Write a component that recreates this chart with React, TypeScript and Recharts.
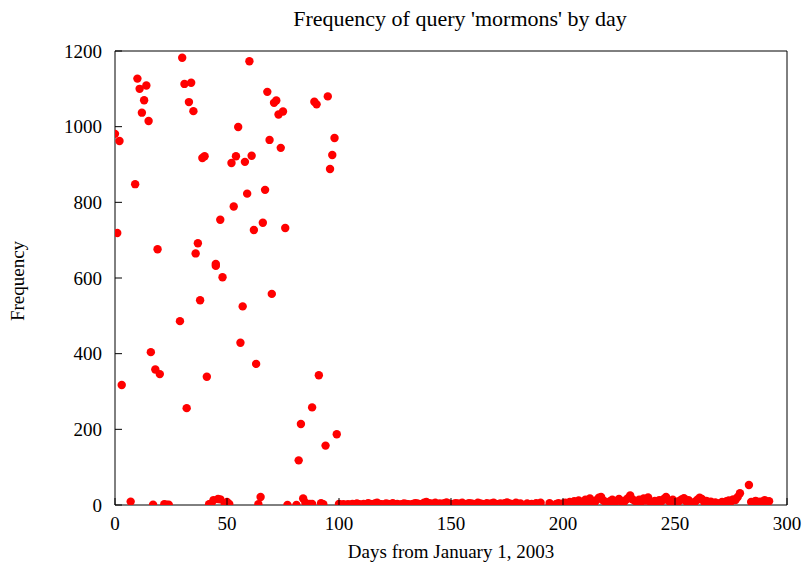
import { Scatter, ScatterChart, XAxis, YAxis } from "recharts"

const FONT = "'Liberation Serif', 'Times New Roman', serif"

// first hundred days
const EARLY_DAYS = [
  0, 1, 2, 3, 7, 9, 10, 11, 12, 13, 14, 15, 16, 17, 18, 19, 20, 22, 23, 24,
  29, 30, 31, 32, 33, 34, 35, 36, 37, 38, 39, 40, 41, 42, 43, 44, 45, 45, 46, 47,
  47, 48, 49, 50, 50, 51, 52, 53, 54, 55, 56, 57, 58, 59, 60, 61, 62, 63, 64, 65,
  66, 67, 68, 69, 70, 71, 72, 73, 74, 75, 76, 77, 81, 82, 83, 84, 85, 87, 88, 88,
  89, 90, 91, 92, 93, 94, 95, 96, 97, 98, 99,
]
const EARLY_COUNTS = [
  981, 719, 962, 317, 9, 848, 1127, 1100, 1037, 1070, 1109, 1015, 404, 1, 358, 676, 346, 2, 1, 1,
  486, 1182, 1113, 256, 1065, 1116, 1041, 665, 692, 541, 917, 922, 339, 2, 4, 13, 637, 632, 16, 754,
  15, 602, 4, 8, 6, 3, 904, 789, 922, 999, 429, 525, 907, 823, 1173, 923, 727, 373, 2, 21,
  746, 833, 1092, 965, 558, 1063, 1069, 1032, 944, 1040, 732, 0, 0, 118, 214, 17, 6, 3, 258, 3,
  1066, 1059, 343, 5, 2, 157, 1080, 888, 925, 970, 187,
]

// day 100 onwards, one count per day (null = no point)
const LATE_START_DAY = 100
const LATE_COUNTS: (number | null)[] = [
  3, 1, 2, 0, 2, 1, 3, 2, 4, 2, 1, 3, 2, 5, 3, 2, 4, 6, 3, 2,
  1, 4, 3, 2, 5, 2, 3, 1, 2, 4, 3, 2, 1, 3, 5, 4, 2, 3, 6, 8,
  5, 4, 3, 6, 2, 4, 3, 5, 7, 4, 2, 3, 5, 4, 3, 6, 2, 3, 5, 4,
  3, 2, 6, 4, 3, 2, 5, 3, 4, 6, 3, 2, 4, 3, 5, 7, 4, 3, 2, 6,
  3, 4, null, null, 4, null, 3, null, 5, null, 6, null, null, null, 5, null, null, 3, 5, 2,
  4, 6, 3, 8, 5, 10, 7, 12, 6, 9, 14, 8, 17, 11, 6, 13, 19, 21, 12, 8,
  5, 10, 14, 7, 11, 16, 9, 6, 13, 18, 25, 15, 11, 8, 14, 9, 17, 12, 20, 8,
  5, 11, 7, 13, 10, 16, 21, 12, 6, 14, 9, 5, 11, 15, 18, 10, 13, 7, 4, 9,
  14, 19, 16, 8, 11, 6, 9, 4, 7, 3, 5, 8, 6, 10, 12, 9, 15, 13, 21, 31,
  null, null, null, 53, 8, 3, 11, 6, 9, 4, 13, 7, 10,
]

const X_TICKS = [0, 50, 100, 150, 200, 250, 300]
const Y_TICKS = [0, 200, 400, 600, 800, 1000, 1200]

const points = [
  ...EARLY_DAYS.map((day, i) => ({ day, count: EARLY_COUNTS[i] })),
  ...LATE_COUNTS.flatMap((count, i) =>
    count === null ? [] : [{ day: LATE_START_DAY + i, count }]
  ),
]

const TICK_LEN = 7
const X_GAP = 12
const Y_GAP = 13

// gnuplot style: tick marks point into the plot
function BottomTick(props: any) {
  const { x, y, payload } = props
  const base = y - X_GAP
  return (
    <g>
      <line x1={x} y1={base} x2={x} y2={base - TICK_LEN} stroke="#000" />
      <text x={x} y={y} dy="0.71em" textAnchor="middle" fontFamily={FONT} fontSize={19} fill="#000">
        {payload.value}
      </text>
    </g>
  )
}

function LeftTick(props: any) {
  const { x, y, payload } = props
  const base = x + Y_GAP
  return (
    <g>
      <line x1={base} y1={y} x2={base + TICK_LEN} y2={y} stroke="#000" />
      <text x={x} y={y} dy="0.355em" textAnchor="end" fontFamily={FONT} fontSize={19} fill="#000">
        {payload.value}
      </text>
    </g>
  )
}

function TopTick(props: any) {
  const { x, y } = props
  return <line x1={x} y1={y} x2={x} y2={y + TICK_LEN} stroke="#000" />
}

function RightTick(props: any) {
  const { x, y } = props
  return <line x1={x} y1={y} x2={x - TICK_LEN} y2={y} stroke="#000" />
}

function Dot(props: any) {
  const { cx, cy } = props
  return <circle cx={cx} cy={cy} r={4.2} fill="#ff0000" />
}

export default function App() {
  return (
    <div style={{ position: "absolute", left: 0, top: 0, width: 809, height: 571, background: "#fff" }}>
      <ScatterChart width={809} height={571} margin={{ top: 50, right: 21, bottom: 0, left: 0 }}>
        <XAxis
          dataKey="day"
          type="number"
          domain={[0, 300]}
          ticks={X_TICKS}
          height={66}
          stroke="#000"
          tickLine={false}
          tickSize={0}
          tickMargin={X_GAP}
          tick={BottomTick}
          allowDataOverflow
        />
        <XAxis
          xAxisId="top"
          orientation="top"
          type="number"
          domain={[0, 300]}
          ticks={X_TICKS}
          height={1}
          stroke="#000"
          tickLine={false}
          tickSize={0}
          tickMargin={0}
          tick={TopTick}
        />
        <YAxis
          dataKey="count"
          type="number"
          domain={[0, 1200]}
          ticks={Y_TICKS}
          width={115}
          stroke="#000"
          tickLine={false}
          tickSize={0}
          tickMargin={Y_GAP}
          tick={LeftTick}
          allowDataOverflow
        />
        <YAxis
          yAxisId="right"
          orientation="right"
          type="number"
          domain={[0, 1200]}
          ticks={Y_TICKS}
          width={1}
          stroke="#000"
          tickLine={false}
          tickSize={0}
          tickMargin={0}
          tick={RightTick}
        />
        <Scatter data={points} shape={Dot} isAnimationActive={false} />
      </ScatterChart>
      <svg
        width={809}
        height={571}
        style={{ position: "absolute", left: 0, top: 0, pointerEvents: "none" }}
        fontFamily={FONT}
        fontSize={19}
      >
        <text x={460} y={26} textAnchor="middle" fontSize={22}>
          Frequency of query 'mormons' by day
        </text>
        <text x={451} y={558} textAnchor="middle">
          Days from January 1, 2003
        </text>
        <text x={24} y={281} textAnchor="middle" transform="rotate(-90 24 281)">
          Frequency
        </text>
      </svg>
    </div>
  )
}
